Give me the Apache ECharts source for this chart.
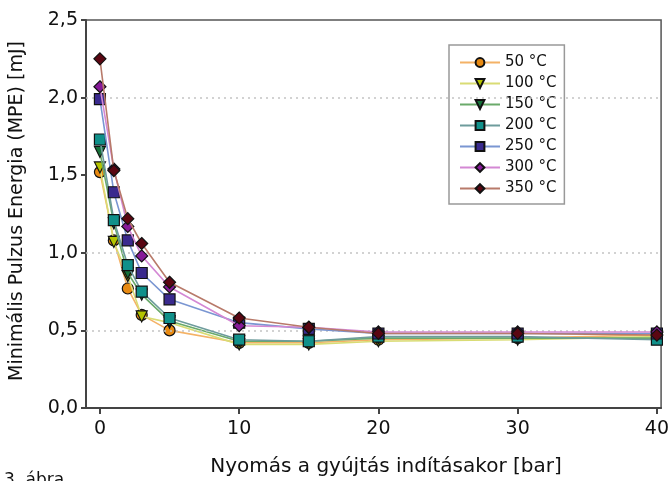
<!DOCTYPE html>
<html><head><meta charset="utf-8">
<script src="https://cdn.jsdelivr.net/npm/echarts@6/dist/echarts.min.js"></script>
<style>html,body{margin:0;padding:0;background:#fff}#c{width:672px;height:481px}</style>
</head><body><div id="c"></div>
<script>
const pressures = [0, 1, 2, 3, 5, 10, 15, 20, 30, 40];
const seriesNames = ['50 °C', '100 °C', '150 °C', '200 °C', '250 °C', '300 °C', '350 °C'];
const v50  = [1.52, 1.08, 0.77, 0.60, 0.50, 0.42, 0.42, 0.44, 0.45, 0.47];
const v100 = [1.55, 1.07, 0.85, 0.59, 0.55, 0.41, 0.41, 0.43, 0.44, 0.46];
const v150 = [1.65, 1.19, 0.87, 0.73, 0.56, 0.43, 0.43, 0.45, 0.45, 0.45];
const v200 = [1.73, 1.21, 0.92, 0.75, 0.58, 0.44, 0.43, 0.46, 0.46, 0.44];
const v250 = [1.99, 1.39, 1.08, 0.87, 0.70, 0.55, 0.51, 0.48, 0.48, 0.48];
const v300 = [2.07, 1.54, 1.17, 0.98, 0.78, 0.53, 0.52, 0.49, 0.49, 0.49];
const v350 = [2.25, 1.53, 1.22, 1.06, 0.81, 0.58, 0.52, 0.48, 0.48, 0.47];
const xTicks = [0, 10, 20, 30, 40];
const gridValues = [0.5, 1.0, 2.0];

const allValues = [v50, v100, v150, v200, v250, v300, v350];
const lineColors = ['#f4b266', '#d9dc74', '#6aaa6a', '#6e9c9c', '#7a96d2', '#d488d4', '#b87a6a'];
const markerColors = ['#e88a12', '#b4c400', '#16723a', '#10908a', '#3a2a8e', '#861a98', '#5a0612'];
const symbols = ['circle', 'path://M0,0L10,0L5,9Z', 'path://M0,0L10,0L5,9Z', 'rect', 'rect', 'diamond', 'diamond'];
const symbolSizes = [11, 11, 11, 11, 11, 12, 12];

const FONT = 'DejaVu Sans';
const series = seriesNames.map((name, i) => ({
  name, type: 'line',
  data: pressures.map((p, k) => [p, allValues[i][k]]),
  symbol: symbols[i], symbolSize: symbolSizes[i],
  lineStyle: { color: lineColors[i], width: 1.6 },
  itemStyle: { color: markerColors[i], borderColor: '#111', borderWidth: 1.2 },
  z: 2 + i
}));
series[0].markLine = {
  silent: true, symbol: 'none', label: { show: false },
  lineStyle: { type: [2, 4], color: '#c4c4c4', width: 1.5 },
  data: gridValues.map(v => ({ yAxis: v }))
};

const chart = echarts.init(document.getElementById('c'), null, { renderer: 'canvas' });
chart.setOption({
  animation: false,
  backgroundColor: '#fff',
  grid: { left: 86, top: 20, right: 10, bottom: 73, show: true, borderColor: '#555', borderWidth: 1.5 },
  xAxis: {
    type: 'value', min: -1, max: 40.3,
    axisLine: { show: true, onZero: false, lineStyle: { color: '#444', width: 2 } },
    axisTick: { show: true, customValues: xTicks, length: 6, lineStyle: { color: '#444', width: 2 } },
    axisLabel: { customValues: xTicks, color: '#111', fontSize: 19, fontFamily: FONT, margin: 12 },
    splitLine: { show: false }
  },
  yAxis: {
    type: 'value', min: 0, max: 2.5, interval: 0.5,
    axisLine: { show: true, onZero: false, lineStyle: { color: '#444', width: 2 } },
    axisTick: { show: true, length: 5, lineStyle: { color: '#444', width: 2 } },
    axisLabel: { color: '#111', fontSize: 19, fontFamily: FONT, margin: 8,
      formatter: v => v.toFixed(1).replace('.', ',') },
    splitLine: { show: false }
  },
  legend: {
    data: seriesNames, orient: 'vertical', left: 449, top: 45,
    padding: [10, 8, 8, 10], itemWidth: 40, itemHeight: 11, itemGap: 6,
    backgroundColor: '#fff', borderColor: '#999', borderWidth: 1.5,
    textStyle: { color: '#111', fontSize: 15, fontFamily: FONT, width: 52, align: 'right' }
  },
  graphic: [
    { type: 'text', x: 17, y: 211, rotation: Math.PI / 2,
      style: { text: 'Minimális Pulzus Energia (MPE) [mJ]', font: '19px "' + FONT + '"', fill: '#111', textAlign: 'center', textVerticalAlign: 'middle' } },
    { type: 'text', x: 386, y: 467,
      style: { text: 'Nyomás a gyújtás indításakor [bar]', font: '20px "' + FONT + '"', fill: '#111', textAlign: 'center', textVerticalAlign: 'middle' } },
    { type: 'text', x: 4, y: 472,
      style: { text: '3. ábra', font: '17px "' + FONT + '"', fill: '#111', textAlign: 'left', textVerticalAlign: 'top' } }
  ],
  series
});
</script></body></html>
